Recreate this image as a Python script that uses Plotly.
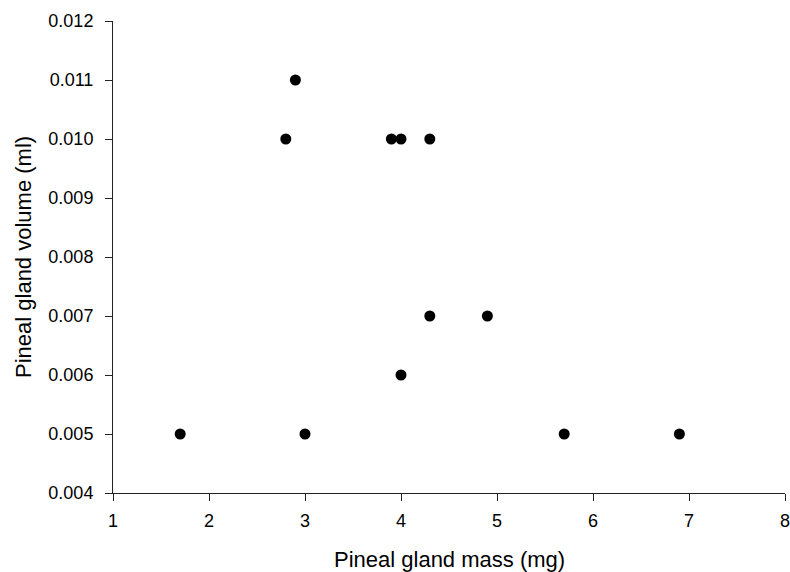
import plotly.graph_objects as go

mass_mg = [1.7, 2.8, 2.9, 3.0, 3.9, 4.0, 4.3, 4.3, 4.0, 4.9, 5.7, 6.9]
volume_ml = [0.005, 0.010, 0.011, 0.005, 0.010, 0.010, 0.010, 0.007, 0.006, 0.007, 0.005, 0.005]
x_ticks = [1, 2, 3, 4, 5, 6, 7, 8]
y_ticks = [0.004, 0.005, 0.006, 0.007, 0.008, 0.009, 0.010, 0.011, 0.012]
y_tick_text = ["%.3f" % v for v in y_ticks]
x_title = "Pineal gland mass (mg)"
y_title = "Pineal gland volume (ml)"

FONT = "Liberation Sans, Arial, sans-serif"

fig = go.Figure(go.Scatter(
    x=mass_mg, y=volume_ml, mode="markers",
    marker=dict(color="black", size=11),
    cliponaxis=False, showlegend=False,
))

axis_common = dict(
    showline=True, linecolor="#222222", linewidth=1,
    ticks="outside", ticklen=7, tickcolor="#222222", tickwidth=1,
    showgrid=False, zeroline=False, automargin=False,
    ticklabeloverflow="allow",
    tickfont=dict(family=FONT, size=18, color="black"),
)

fig.update_layout(
    width=790, height=572,
    margin=dict(l=113, r=5, t=21, b=79),
    paper_bgcolor="white", plot_bgcolor="white",
    font=dict(family=FONT, color="black"),
    xaxis=dict(range=[1, 8], tickvals=x_ticks, ticklabelstandoff=4, **axis_common),
    yaxis=dict(range=[0.004, 0.012], tickvals=y_ticks, ticktext=y_tick_text,
               ticklabelstandoff=8, **axis_common),
    annotations=[
        dict(text=x_title, xref="paper", yref="paper", x=0.5, y=0,
             xanchor="center", yanchor="middle", yshift=-66, showarrow=False,
             font=dict(family=FONT, size=22, color="black")),
        dict(text=y_title, xref="paper", yref="paper", x=0, y=0.5,
             xanchor="center", yanchor="middle", xshift=-90, textangle=-90,
             showarrow=False, font=dict(family=FONT, size=22, color="black")),
    ],
)

# remove the page's default body margin so the figure fills the window exactly
fig.write_html("out.html", config={"displayModeBar": False},
               post_script="document.body.style.margin='0';document.body.style.overflow='hidden';")
